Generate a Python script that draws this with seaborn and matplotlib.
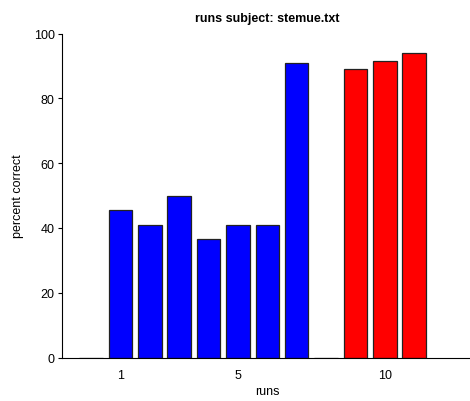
import matplotlib
matplotlib.use("Agg")
import matplotlib.pyplot as plt
import seaborn as sns
import pandas as pd

runs = [0, 1, 2, 3, 4, 5, 6, 7, 8, 9, 10, 11]
percent = [0, 45.5, 41.0, 50.0, 36.5, 41.0, 41.0, 91.0, 0, 89.0, 91.5, 94.0]
group = ["a"] * 8 + ["b"] * 4
xticks = [1, 5, 10]
yticks = [0, 20, 40, 60, 80, 100]

sns.set_style("white")
plt.rcParams["font.family"] = ["Liberation Sans", "DejaVu Sans"]
plt.rcParams["text.color"] = "black"
plt.rcParams["axes.labelcolor"] = "black"
plt.rcParams["xtick.color"] = "black"
plt.rcParams["ytick.color"] = "black"

df = pd.DataFrame({"runs": runs, "percent": percent, "group": group})

fig = plt.figure(figsize=(4.7, 4.02), dpi=100)
ax = fig.add_axes([0.1313, 0.108, 0.875, 0.806])
sns.barplot(data=df, x="runs", y="percent", hue="group", native_scale=True,
            dodge=False, width=0.8, palette={"a": "#0000ff", "b": "#ff0000"},
            edgecolor="#222222", linewidth=0.9, legend=False, ax=ax, saturation=1)

ax.set_xlim(-1, 13)
ax.set_ylim(0, 100)
ax.set_xticks(xticks)
ax.set_xticklabels([str(t) for t in xticks])
ax.set_yticks(yticks)
ax.set_yticklabels([str(t) for t in yticks])
for s in ["top", "right"]:
    ax.spines[s].set_visible(False)
for s in ["left", "bottom"]:
    ax.spines[s].set_color("black")
    ax.spines[s].set_linewidth(0.8)
ax.tick_params(axis="y", direction="out", length=3, width=0.8, labelsize=9, pad=2, left=True)
ax.tick_params(axis="x", length=0, labelsize=9, pad=8)
ax.set_xlabel("runs", fontsize=9, labelpad=3)
ax.set_ylabel("percent correct", fontsize=9, labelpad=7)
ax.set_title("runs subject: stemue.txt", fontsize=9, fontweight="bold", pad=9, color="black")

fig.savefig("out.png", dpi=100)
